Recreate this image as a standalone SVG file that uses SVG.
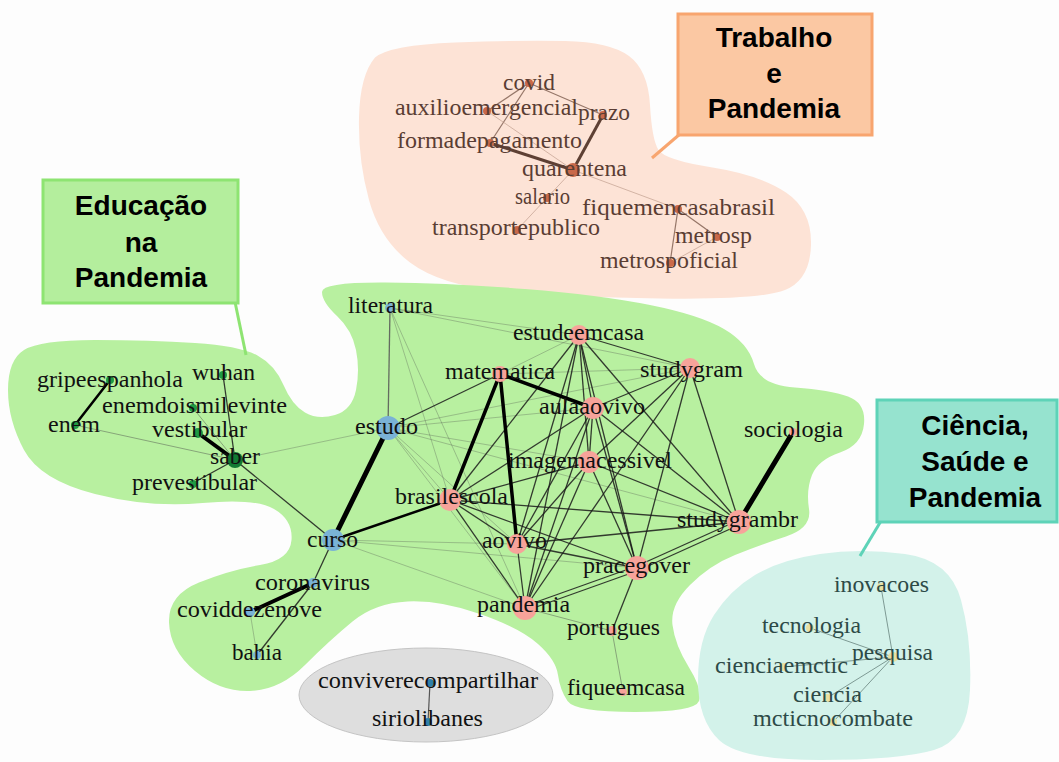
<svg xmlns="http://www.w3.org/2000/svg" width="1059" height="762" viewBox="0 0 1059 762">
<style>
.lbl{font-family:"Liberation Serif","Times New Roman",serif;font-size:24px;fill:#111}
.top .lbl{fill:#5a3d33}
.sci .lbl{fill:#2d4a47}
.box{font-family:"Liberation Sans",Arial,sans-serif;font-size:28px;font-weight:bold;fill:#000;text-anchor:middle}
.eh{stroke:#000;fill:none;stroke-linecap:round}
.em{stroke:#1a1a1a;stroke-width:1.3;fill:none;opacity:.85}
.el{stroke:#4a4a4a;stroke-width:1;fill:none;opacity:.3}
.tt{stroke:#5e4034;stroke-width:3;fill:none}
.tm{stroke:#7a5a4c;stroke-width:1.2;fill:none;opacity:.8}
.tl{stroke:#b89484;stroke-width:1;fill:none;opacity:.6}
.sl{stroke:#7e9a94;stroke-width:1;fill:none}
.pk{fill:#f7a39a}
.bl{fill:#7ab2d6}
.gn{fill:#1f9a44}
.br{fill:#c9694a}
.ye{fill:#e9e0a2}
.sb{fill:#2f80a8}
</style>
<rect width="1059" height="762" fill="#fdfdfd"/>
<g id="blobs">
<path id="blob-trabalho" fill="#fde3d6" d="M359,117.5 Q360,75 375,57.5 Q390,45 455,42.5 Q520,40 565,41 Q610,42 629,56 Q648,70 650,105 Q652,140 658.5,150 Q665,160 712.5,167.5 Q760,175 786,192.5 Q812,210 811,245 Q810,280 785,290 Q760,300 660,298.5 Q560,297 500,291 Q440,285 410,262.5 Q380,240 369,200 Q358,160 359,117.5 Z"/>
<path id="blob-educacao" fill="#b8f0a0" d="M8,390 Q8,360 24,350 Q40,340 95,340 Q150,340 195,343 Q240,346 257.5,355.5 Q275,365 283.5,385 Q292,405 305,412.5 Q318,420 335,415 Q352,410 356,390 Q360,370 356,350 Q352,330 337,316 Q322,302 322,292 Q322,282 386,282.5 Q450,283 525,289 Q600,295 650,305 Q700,315 724,329 Q748,343 754,364 Q760,385 795,387.5 Q830,390 848,396.5 Q866,403 864,424 Q862,445 840,452.5 Q818,460 812,475 Q806,490 809,509 Q812,528 786,536.5 Q760,545 735,555 Q710,565 690,585 Q670,605 672.5,625 Q675,645 689,667.5 Q703,690 699,701 Q695,712 635,712 Q575,712 567.5,701 Q560,690 558,675 Q556,660 538,644 Q520,628 480,614 Q440,600 407.5,601.5 Q375,603 352.5,621.5 Q330,640 305,665 Q280,690 250,691 Q220,692 195,671 Q170,650 169,622.5 Q168,595 199,582.5 Q230,570 260,565 Q290,560 291.5,540 Q293,520 274,509 Q255,498 202.5,503 Q150,508 95,494 Q40,480 24,450 Q8,420 8,390 Z"/>
<path id="blob-ciencia" fill="#d3f2ea" d="M755,575 Q780,560 820,554 Q860,548 905,554 Q950,560 961,600 Q972,640 970,690 Q968,740 934,750 Q900,760 820,760 Q740,760 719,740 Q698,720 698,680 Q698,640 714,615 Q730,590 755,575 Z"/>
<ellipse id="blob-grey" cx="426" cy="695" rx="127" ry="47" fill="#dedede" stroke="#c4c4c4" stroke-width="1"/>
</g>
<g id="callouts">
<line x1="680" y1="134" x2="652" y2="158" stroke="#f8a56f" stroke-width="3"/>
<line x1="235" y1="302" x2="246" y2="355" stroke="#8ee472" stroke-width="3"/>
<line x1="881" y1="521" x2="860" y2="556" stroke="#5ed3b8" stroke-width="3"/>
</g>
<g id="connectors">
<line class="tm" x1="529" y1="83" x2="487" y2="111"/>
<line class="tm" x1="529" y1="83" x2="490" y2="143"/>
<line class="tm" x1="529" y1="83" x2="603" y2="115"/>
<line class="tt" x1="603" y1="115" x2="573" y2="170"/>
<line class="tt" x1="490" y1="143" x2="573" y2="170"/>
<line class="tl" x1="487" y1="111" x2="573" y2="170"/>
<line class="tl" x1="573" y1="170" x2="517" y2="230"/>
<line class="tl" x1="573" y1="170" x2="678" y2="209"/>
<line class="tm" x1="678" y1="209" x2="717" y2="237"/>
<line class="tm" x1="678" y1="209" x2="670" y2="263"/>
<line class="tl" x1="717" y1="237" x2="670" y2="263"/>
<line class="eh" stroke-width="2.5" x1="110" y1="380" x2="75" y2="425"/>
<line class="el" style="opacity:.45" x1="75" y1="425" x2="235" y2="460"/>
<line class="em" x1="223" y1="375" x2="235" y2="460"/>
<line class="el" style="opacity:.45" x1="193" y1="408" x2="235" y2="460"/>
<line class="eh" stroke-width="4" x1="198" y1="433" x2="235" y2="460"/>
<line class="em" x1="193" y1="483" x2="235" y2="460"/>
<line class="em" x1="235" y1="460" x2="333" y2="540"/>
<line class="el" x1="235" y1="460" x2="388" y2="428"/>
<line class="em" stroke-width="1.8" x1="333" y1="540" x2="313" y2="583"/>
<line class="eh" stroke-width="4" x1="313" y1="583" x2="250" y2="612"/>
<line class="em" x1="313" y1="583" x2="257" y2="655"/>
<line class="el" x1="250" y1="612" x2="257" y2="655"/>
<line class="el" x1="390" y1="308" x2="579" y2="335"/>
<line class="el" x1="390" y1="308" x2="690" y2="368"/>
<line class="el" x1="390" y1="308" x2="450" y2="500"/>
<line class="el" x1="390" y1="308" x2="525" y2="608"/>
<line class="el" x1="388" y1="428" x2="593" y2="408"/>
<line class="el" x1="388" y1="428" x2="589" y2="462"/>
<line class="el" x1="388" y1="428" x2="739" y2="522"/>
<line class="el" x1="388" y1="428" x2="525" y2="608"/>
<line class="el" x1="388" y1="428" x2="517" y2="544"/>
<line class="el" x1="388" y1="428" x2="450" y2="500"/>
<line class="el" x1="388" y1="428" x2="690" y2="368"/>
<line class="el" x1="333" y1="540" x2="525" y2="608"/>
<line class="el" x1="333" y1="540" x2="517" y2="544"/>
<line class="el" x1="333" y1="540" x2="637" y2="568"/>
<line class="el" x1="500" y1="374" x2="579" y2="335"/>
<line class="el" x1="500" y1="374" x2="690" y2="368"/>
<line class="el" style="opacity:.45" x1="525" y1="608" x2="612" y2="631"/>
<line class="el" style="opacity:.45" x1="612" y1="631" x2="623" y2="692"/>
<line class="em" style="stroke:#555" x1="390" y1="308" x2="388" y2="428"/>
<line class="em" x1="500" y1="374" x2="388" y2="428"/>
<line class="em" x1="579" y1="335" x2="690" y2="368"/>
<line class="em" x1="579" y1="335" x2="593" y2="408"/>
<line class="em" x1="579" y1="335" x2="589" y2="462"/>
<line class="em" x1="579" y1="335" x2="450" y2="500"/>
<line class="em" x1="579" y1="335" x2="517" y2="544"/>
<line class="em" x1="579" y1="335" x2="525" y2="608"/>
<line class="em" x1="579" y1="335" x2="637" y2="568"/>
<line class="em" x1="579" y1="335" x2="739" y2="522"/>
<line class="em" x1="690" y1="368" x2="593" y2="408"/>
<line class="em" x1="690" y1="368" x2="589" y2="462"/>
<line class="em" x1="690" y1="368" x2="637" y2="568"/>
<line class="em" x1="690" y1="368" x2="739" y2="522"/>
<line class="em" x1="690" y1="368" x2="525" y2="608"/>
<line class="em" x1="593" y1="408" x2="589" y2="462"/>
<line class="em" x1="593" y1="408" x2="450" y2="500"/>
<line class="em" x1="593" y1="408" x2="517" y2="544"/>
<line class="em" x1="593" y1="408" x2="525" y2="608"/>
<line class="em" x1="593" y1="408" x2="637" y2="568"/>
<line class="em" x1="593" y1="408" x2="739" y2="522"/>
<line class="em" x1="589" y1="462" x2="450" y2="500"/>
<line class="em" x1="589" y1="462" x2="517" y2="544"/>
<line class="em" x1="589" y1="462" x2="525" y2="608"/>
<line class="em" x1="589" y1="462" x2="637" y2="568"/>
<line class="em" x1="589" y1="462" x2="739" y2="522"/>
<line class="em" x1="450" y1="500" x2="517" y2="544"/>
<line class="em" x1="450" y1="500" x2="525" y2="608"/>
<line class="em" x1="450" y1="500" x2="637" y2="568"/>
<line class="em" x1="450" y1="500" x2="739" y2="522"/>
<line class="em" x1="517" y1="544" x2="525" y2="608"/>
<line class="em" x1="517" y1="544" x2="637" y2="568"/>
<line class="em" x1="517" y1="544" x2="739" y2="522"/>
<line class="em" x1="637" y1="566" x2="525" y2="606"/>
<line class="em" x1="637" y1="571" x2="525" y2="611"/>
<line class="em" x1="637" y1="566" x2="739" y2="520"/>
<line class="em" x1="637" y1="571" x2="739" y2="525"/>
<line class="em" x1="637" y1="568" x2="612" y2="631"/>
<line class="eh" stroke-width="5" x1="388" y1="428" x2="333" y2="540"/>
<line class="eh" stroke-width="2.5" x1="333" y1="540" x2="450" y2="500"/>
<line class="eh" stroke-width="3.5" x1="500" y1="374" x2="593" y2="408"/>
<line class="eh" stroke-width="3.5" x1="500" y1="374" x2="450" y2="500"/>
<line class="eh" stroke-width="3.5" x1="500" y1="374" x2="517" y2="544"/>
<line class="eh" stroke-width="5" x1="739" y1="522" x2="793" y2="432"/>
<line class="sl" x1="893" y1="657" x2="881" y2="587"/>
<line class="sl" x1="893" y1="657" x2="810" y2="628"/>
<line class="sl" x1="893" y1="657" x2="783" y2="667"/>
<line class="sl" x1="893" y1="657" x2="827" y2="698"/>
<line class="sl" x1="893" y1="657" x2="833" y2="722"/>
<line stroke="#555" stroke-width="1.2" x1="430" y1="683" x2="428" y2="722"/>
</g>
<g class="top">
<g id="n-covid"><circle class="br" cx="529" cy="83" r="4"/><text class="lbl" x="503" y="90" textLength="52" lengthAdjust="spacingAndGlyphs">covid</text></g>
<g id="n-auxilioemergencial"><circle class="br" cx="487" cy="111" r="4"/><text class="lbl" x="395" y="115" textLength="183" lengthAdjust="spacingAndGlyphs">auxilioemergencial</text></g>
<g id="n-prazo"><circle class="br" cx="603" cy="115" r="4"/><text class="lbl" x="578" y="120" textLength="52" lengthAdjust="spacingAndGlyphs">prazo</text></g>
<g id="n-formadepagamento"><circle class="br" cx="490" cy="143" r="4"/><text class="lbl" x="397" y="148" textLength="185" lengthAdjust="spacingAndGlyphs">formadepagamento</text></g>
<g id="n-quarentena"><circle class="br" cx="573" cy="170" r="7"/><text class="lbl" x="522" y="176" textLength="105" lengthAdjust="spacingAndGlyphs">quarentena</text></g>
<g id="n-salario"><circle class="br" cx="547" cy="198" r="4"/><text class="lbl" x="515" y="204" textLength="55" lengthAdjust="spacingAndGlyphs">salario</text></g>
<g id="n-fiquemencasabrasil"><circle class="br" cx="678" cy="209" r="4"/><text class="lbl" x="582" y="215" textLength="193" lengthAdjust="spacingAndGlyphs">fiquemencasabrasil</text></g>
<g id="n-transportepublico"><circle class="br" cx="517" cy="230" r="4"/><text class="lbl" x="432" y="235" textLength="168" lengthAdjust="spacingAndGlyphs">transportepublico</text></g>
<g id="n-metrosp"><circle class="br" cx="717" cy="237" r="4"/><text class="lbl" x="675" y="243" textLength="77" lengthAdjust="spacingAndGlyphs">metrosp</text></g>
<g id="n-metrospoficial"><circle class="br" cx="670" cy="263" r="4"/><text class="lbl" x="600" y="268" textLength="138" lengthAdjust="spacingAndGlyphs">metrospoficial</text></g>
</g>
<g class="edu">
<g id="n-gripeespanhola"><circle class="gn" cx="110" cy="380" r="4"/><text class="lbl" x="37" y="387" textLength="146" lengthAdjust="spacingAndGlyphs">gripeespanhola</text></g>
<g id="n-wuhan"><circle class="gn" cx="223" cy="375" r="4"/><text class="lbl" x="192" y="380" textLength="63" lengthAdjust="spacingAndGlyphs">wuhan</text></g>
<g id="n-enemdoismilevinte"><circle class="gn" cx="193" cy="408" r="4"/><text class="lbl" x="102" y="413" textLength="185" lengthAdjust="spacingAndGlyphs">enemdoismilevinte</text></g>
<g id="n-enem"><circle class="gn" cx="75" cy="425" r="4"/><text class="lbl" x="48" y="432" textLength="52" lengthAdjust="spacingAndGlyphs">enem</text></g>
<g id="n-vestibular"><circle class="gn" cx="198" cy="433" r="5"/><text class="lbl" x="152" y="437" textLength="95" lengthAdjust="spacingAndGlyphs">vestibular</text></g>
<g id="n-saber"><circle cx="235" cy="460" r="8" fill="#137a33"/><text class="lbl" x="210" y="464" textLength="50" lengthAdjust="spacingAndGlyphs">saber</text></g>
<g id="n-prevestibular"><circle class="gn" cx="193" cy="484" r="4"/><text class="lbl" x="132" y="490" textLength="125" lengthAdjust="spacingAndGlyphs">prevestibular</text></g>
<g id="n-curso"><circle class="bl" cx="333" cy="540" r="11"/><text class="lbl" x="307" y="547" textLength="51" lengthAdjust="spacingAndGlyphs">curso</text></g>
<g id="n-coronavirus"><circle class="bl" cx="313" cy="583" r="5"/><text class="lbl" x="255" y="590" textLength="115" lengthAdjust="spacingAndGlyphs">coronavirus</text></g>
<g id="n-coviddezenove"><circle class="bl" cx="250" cy="612" r="5"/><text class="lbl" x="177" y="617" textLength="145" lengthAdjust="spacingAndGlyphs">coviddezenove</text></g>
<g id="n-bahia"><circle class="bl" cx="257" cy="655" r="4"/><text class="lbl" x="232" y="660" textLength="50" lengthAdjust="spacingAndGlyphs">bahia</text></g>
<g id="n-literatura"><circle class="bl" cx="390" cy="308" r="5"/><text class="lbl" x="348" y="313" textLength="85" lengthAdjust="spacingAndGlyphs">literatura</text></g>
<g id="n-estudo"><circle class="bl" cx="388" cy="428" r="12"/><text class="lbl" x="355" y="434" textLength="63" lengthAdjust="spacingAndGlyphs">estudo</text></g>
<g id="n-estudeemcasa"><circle class="pk" cx="579" cy="335" r="10"/><text class="lbl" x="513" y="340" textLength="131" lengthAdjust="spacingAndGlyphs">estudeemcasa</text></g>
<g id="n-matematica"><circle class="pk" cx="500" cy="374" r="8"/><text class="lbl" x="445" y="379" textLength="110" lengthAdjust="spacingAndGlyphs">matematica</text></g>
<g id="n-studygram"><circle class="pk" cx="690" cy="368" r="10"/><text class="lbl" x="640" y="377" textLength="103" lengthAdjust="spacingAndGlyphs">studygram</text></g>
<g id="n-aulaaovivo"><circle class="pk" cx="593" cy="408" r="11"/><text class="lbl" x="539" y="414" textLength="106" lengthAdjust="spacingAndGlyphs">aulaaovivo</text></g>
<g id="n-imagemacessivel"><circle class="pk" cx="589" cy="462" r="11"/><text class="lbl" x="508" y="468" textLength="164" lengthAdjust="spacingAndGlyphs">imagemacessivel</text></g>
<g id="n-brasilescola"><circle class="pk" cx="450" cy="500" r="11"/><text class="lbl" x="395" y="504" textLength="113" lengthAdjust="spacingAndGlyphs">brasilescola</text></g>
<g id="n-studygrambr"><circle class="pk" cx="739" cy="522" r="12"/><text class="lbl" x="677" y="527" textLength="121" lengthAdjust="spacingAndGlyphs">studygrambr</text></g>
<g id="n-sociologia"><circle class="pk" cx="793" cy="432" r="4"/><text class="lbl" x="744" y="437" textLength="99" lengthAdjust="spacingAndGlyphs">sociologia</text></g>
<g id="n-aovivo"><circle class="pk" cx="517" cy="544" r="10"/><text class="lbl" x="482" y="548" textLength="65" lengthAdjust="spacingAndGlyphs">aovivo</text></g>
<g id="n-pracegover"><circle class="pk" cx="637" cy="568" r="12"/><text class="lbl" x="583" y="573" textLength="107" lengthAdjust="spacingAndGlyphs">pracegover</text></g>
<g id="n-pandemia"><circle class="pk" cx="525" cy="608" r="12"/><text class="lbl" x="477" y="612" textLength="93" lengthAdjust="spacingAndGlyphs">pandemia</text></g>
<g id="n-portugues"><circle class="pk" cx="612" cy="631" r="5"/><text class="lbl" x="567" y="635" textLength="93" lengthAdjust="spacingAndGlyphs">portugues</text></g>
<g id="n-fiqueemcasa"><circle class="pk" cx="623" cy="692" r="4"/><text class="lbl" x="567" y="695" textLength="118" lengthAdjust="spacingAndGlyphs">fiqueemcasa</text></g>
</g>
<g class="sci">
<g id="n-inovacoes"><circle class="ye" cx="881" cy="587" r="4"/><text class="lbl" x="834" y="592" textLength="95" lengthAdjust="spacingAndGlyphs">inovacoes</text></g>
<g id="n-tecnologia"><circle class="ye" cx="810" cy="628" r="4"/><text class="lbl" x="762" y="633" textLength="99" lengthAdjust="spacingAndGlyphs">tecnologia</text></g>
<g id="n-pesquisa"><circle class="ye" cx="893" cy="657" r="5"/><text class="lbl" x="852" y="660" textLength="81" lengthAdjust="spacingAndGlyphs">pesquisa</text></g>
<g id="n-cienciaemctic"><circle class="ye" cx="783" cy="667" r="4"/><text class="lbl" x="715" y="673" textLength="133" lengthAdjust="spacingAndGlyphs">cienciaemctic</text></g>
<g id="n-ciencia"><circle class="ye" cx="827" cy="698" r="4"/><text class="lbl" x="793" y="702" textLength="69" lengthAdjust="spacingAndGlyphs">ciencia</text></g>
<g id="n-mcticnocombate"><circle class="ye" cx="833" cy="722" r="4"/><text class="lbl" x="753" y="726" textLength="160" lengthAdjust="spacingAndGlyphs">mcticnocombate</text></g>
</g>
<g class="grey">
<g id="n-conviverecompartilhar"><circle class="sb" cx="430" cy="683" r="4"/><text class="lbl" x="318" y="688" textLength="220" lengthAdjust="spacingAndGlyphs">conviverecompartilhar</text></g>
<g id="n-siriolibanes"><circle class="sb" cx="428" cy="722" r="4"/><text class="lbl" x="372" y="726" textLength="111" lengthAdjust="spacingAndGlyphs">siriolibanes</text></g>
</g>
<g id="label-trabalho">
<rect x="678" y="14" width="194" height="121" fill="#fbc8a3" stroke="#f8a56f" stroke-width="3"/>
<text class="box" x="774" y="47">Trabalho</text>
<text class="box" x="774" y="83">e</text>
<text class="box" x="774" y="118">Pandemia</text>
</g>
<g id="label-educacao">
<rect x="43" y="180" width="195" height="123" fill="#b4ee9d" stroke="#8ee472" stroke-width="3"/>
<text class="box" x="141" y="215">Educação</text>
<text class="box" x="141" y="252">na</text>
<text class="box" x="141" y="287">Pandemia</text>
</g>
<g id="label-ciencia">
<rect x="877" y="400" width="180" height="122" fill="#96e3cf" stroke="#5ed3b8" stroke-width="3"/>
<text class="box" x="975" y="435">Ciência,</text>
<text class="box" x="975" y="471">Saúde e</text>
<text class="box" x="975" y="507">Pandemia</text>
</g>
</svg>
